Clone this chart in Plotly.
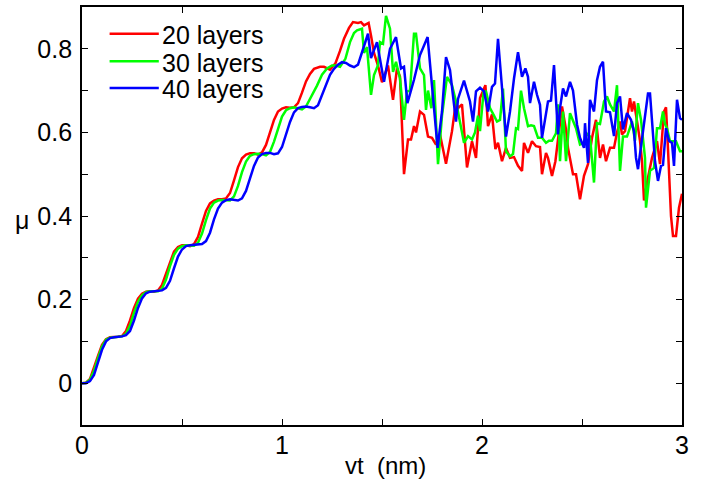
import plotly.graph_objects as go

# ---------------- data ----------------
series_names = ["20 layers", "30 layers", "40 layers"]
series_colors = ["#ff0000", "#00ff00", "#0000ff"]

pts_20 = [
    (0.00, 0.000), (0.02, 0.001), (0.04, 0.010), (0.06, 0.035), (0.08, 0.065), (0.10, 0.092),
    (0.12, 0.105), (0.14, 0.110), (0.16, 0.110), (0.18, 0.111), (0.20, 0.113), (0.22, 0.125),
    (0.24, 0.150), (0.26, 0.180), (0.28, 0.202), (0.30, 0.214), (0.32, 0.219), (0.34, 0.220),
    (0.36, 0.219), (0.38, 0.222), (0.40, 0.235), (0.42, 0.262), (0.44, 0.293), (0.46, 0.315),
    (0.48, 0.326), (0.50, 0.330), (0.52, 0.330), (0.54, 0.328), (0.56, 0.333), (0.58, 0.350),
    (0.60, 0.382), (0.62, 0.412), (0.64, 0.430), (0.66, 0.437), (0.68, 0.440), (0.70, 0.440),
    (0.72, 0.442), (0.74, 0.455), (0.76, 0.485), (0.78, 0.517), (0.80, 0.538), (0.82, 0.547),
    (0.84, 0.550), (0.86, 0.550), (0.88, 0.547), (0.90, 0.552), (0.92, 0.570), (0.94, 0.600),
    (0.96, 0.630), (0.98, 0.650), (1.00, 0.657), (1.02, 0.660), (1.04, 0.659), (1.06, 0.660),
    (1.08, 0.670), (1.10, 0.695), (1.12, 0.722), (1.14, 0.740), (1.16, 0.752), (1.19, 0.757),
    (1.21, 0.757), (1.24, 0.750), (1.267, 0.765), (1.29, 0.795), (1.31, 0.824), (1.335, 0.850),
    (1.355, 0.864), (1.38, 0.862), (1.395, 0.864), (1.41, 0.856), (1.433, 0.862), (1.445, 0.832),
    (1.46, 0.790), (1.48, 0.760), (1.50, 0.720), (1.53, 0.760), (1.555, 0.678), (1.575, 0.753),
    (1.59, 0.733), (1.61, 0.500), (1.63, 0.583), (1.645, 0.583), (1.66, 0.615), (1.67, 0.600),
    (1.69, 0.650), (1.71, 0.642), (1.73, 0.590), (1.75, 0.587), (1.77, 0.571), (1.79, 0.595),
    (1.82, 0.525), (1.85, 0.603), (1.87, 0.674), (1.88, 0.658), (1.90, 0.667), (1.925, 0.516),
    (1.95, 0.579), (1.97, 0.539), (1.99, 0.682), (2.017, 0.713), (2.03, 0.615), (2.05, 0.643),
    (2.067, 0.560), (2.08, 0.575), (2.10, 0.531), (2.12, 0.563), (2.14, 0.539), (2.16, 0.541),
    (2.18, 0.520), (2.20, 0.508), (2.21, 0.575), (2.23, 0.551), (2.25, 0.579), (2.27, 0.567),
    (2.29, 0.565), (2.30, 0.500), (2.32, 0.551), (2.33, 0.539), (2.35, 0.496), (2.367, 0.531),
    (2.38, 0.587), (2.40, 0.662), (2.42, 0.607), (2.43, 0.563), (2.455, 0.500), (2.47, 0.500),
    (2.49, 0.440), (2.51, 0.496), (2.53, 0.524), (2.55, 0.587), (2.57, 0.630), (2.59, 0.539),
    (2.605, 0.571), (2.62, 0.531), (2.64, 0.563), (2.66, 0.563), (2.675, 0.600), (2.69, 0.626),
    (2.70, 0.595), (2.715, 0.603), (2.74, 0.682), (2.75, 0.650), (2.76, 0.674), (2.775, 0.626),
    (2.79, 0.580), (2.80, 0.531), (2.81, 0.437), (2.83, 0.492), (2.85, 0.539), (2.875, 0.579),
    (2.89, 0.524), (2.91, 0.650), (2.92, 0.660), (2.93, 0.560), (2.945, 0.400), (2.955, 0.352),
    (2.97, 0.352), (2.985, 0.420), (3.00, 0.453),
]

pts_30 = [
    (0.00, 0.000), (0.02, 0.001), (0.04, 0.008), (0.06, 0.030), (0.08, 0.060), (0.10, 0.088),
    (0.12, 0.104), (0.14, 0.109), (0.16, 0.110), (0.18, 0.111), (0.20, 0.112), (0.22, 0.118),
    (0.24, 0.138), (0.26, 0.168), (0.28, 0.195), (0.30, 0.210), (0.32, 0.218), (0.34, 0.220),
    (0.36, 0.220), (0.38, 0.220), (0.40, 0.226), (0.42, 0.248), (0.44, 0.280), (0.46, 0.307),
    (0.48, 0.322), (0.50, 0.328), (0.52, 0.330), (0.54, 0.330), (0.56, 0.329), (0.58, 0.336),
    (0.60, 0.358), (0.62, 0.390), (0.64, 0.418), (0.66, 0.432), (0.68, 0.437), (0.70, 0.438),
    (0.72, 0.437), (0.74, 0.437), (0.76, 0.447), (0.78, 0.472), (0.80, 0.505), (0.82, 0.530),
    (0.84, 0.544), (0.86, 0.548), (0.88, 0.549), (0.90, 0.548), (0.92, 0.545), (0.94, 0.553),
    (0.96, 0.578), (0.98, 0.610), (1.00, 0.638), (1.02, 0.653), (1.04, 0.658), (1.06, 0.660),
    (1.08, 0.658), (1.10, 0.655), (1.12, 0.662), (1.14, 0.680), (1.16, 0.700), (1.175, 0.712),
    (1.20, 0.738), (1.225, 0.753), (1.25, 0.760), (1.27, 0.760), (1.29, 0.757), (1.317, 0.776),
    (1.34, 0.816), (1.36, 0.838), (1.375, 0.844), (1.40, 0.848), (1.41, 0.790), (1.425, 0.804),
    (1.445, 0.690), (1.46, 0.737), (1.48, 0.761), (1.49, 0.816), (1.505, 0.812), (1.52, 0.879),
    (1.54, 0.848), (1.555, 0.745), (1.57, 0.769), (1.59, 0.729), (1.61, 0.630), (1.625, 0.698),
    (1.64, 0.700), (1.66, 0.836), (1.67, 0.836), (1.69, 0.753), (1.71, 0.737), (1.72, 0.654),
    (1.73, 0.700), (1.747, 0.658), (1.76, 0.725), (1.78, 0.524), (1.79, 0.580), (1.80, 0.640),
    (1.825, 0.733), (1.85, 0.713), (1.87, 0.674), (1.89, 0.626), (1.91, 0.575), (1.93, 0.591),
    (1.95, 0.583), (1.965, 0.600), (1.98, 0.640), (1.99, 0.603), (2.008, 0.698), (2.02, 0.698),
    (2.04, 0.658), (2.06, 0.640), (2.075, 0.626), (2.09, 0.630), (2.105, 0.705), (2.12, 0.555),
    (2.14, 0.543), (2.155, 0.548), (2.17, 0.610), (2.18, 0.608), (2.195, 0.700), (2.21, 0.658),
    (2.23, 0.615), (2.245, 0.617), (2.26, 0.615), (2.28, 0.587), (2.30, 0.587), (2.32, 0.575),
    (2.335, 0.580), (2.35, 0.580), (2.37, 0.598), (2.38, 0.667), (2.39, 0.531), (2.405, 0.650),
    (2.42, 0.531), (2.44, 0.646), (2.455, 0.630), (2.47, 0.610), (2.49, 0.571), (2.51, 0.575),
    (2.525, 0.598), (2.54, 0.590), (2.56, 0.480), (2.575, 0.622), (2.59, 0.620), (2.61, 0.674),
    (2.625, 0.686), (2.64, 0.667), (2.66, 0.650), (2.675, 0.713), (2.69, 0.508), (2.705, 0.590),
    (2.725, 0.590), (2.75, 0.626), (2.765, 0.580), (2.78, 0.670), (2.795, 0.630), (2.815, 0.539),
    (2.82, 0.420), (2.84, 0.508), (2.86, 0.515), (2.875, 0.610), (2.89, 0.610), (2.905, 0.650),
    (2.915, 0.620), (2.925, 0.610), (2.94, 0.579), (2.97, 0.579), (2.99, 0.555), (3.00, 0.555),
]

pts_40 = [
    (0.00, 0.000), (0.02, 0.000), (0.04, 0.005), (0.06, 0.020), (0.08, 0.050), (0.10, 0.080),
    (0.12, 0.100), (0.14, 0.108), (0.16, 0.110), (0.18, 0.111), (0.20, 0.112), (0.22, 0.115),
    (0.24, 0.125), (0.26, 0.150), (0.28, 0.180), (0.30, 0.203), (0.32, 0.215), (0.34, 0.219),
    (0.36, 0.220), (0.38, 0.221), (0.40, 0.222), (0.42, 0.228), (0.44, 0.245), (0.46, 0.275),
    (0.48, 0.303), (0.50, 0.320), (0.52, 0.328), (0.54, 0.330), (0.56, 0.331), (0.58, 0.331),
    (0.60, 0.333), (0.62, 0.340), (0.64, 0.360), (0.66, 0.392), (0.68, 0.418), (0.70, 0.432),
    (0.72, 0.438), (0.74, 0.440), (0.76, 0.438), (0.78, 0.437), (0.80, 0.442), (0.82, 0.460),
    (0.84, 0.490), (0.86, 0.520), (0.88, 0.540), (0.90, 0.548), (0.92, 0.551), (0.94, 0.551),
    (0.96, 0.548), (0.98, 0.550), (1.00, 0.565), (1.02, 0.595), (1.04, 0.625), (1.06, 0.648),
    (1.08, 0.658), (1.10, 0.661), (1.12, 0.662), (1.14, 0.660), (1.16, 0.658), (1.18, 0.665),
    (1.20, 0.690), (1.22, 0.718), (1.24, 0.738), (1.26, 0.752), (1.28, 0.762), (1.30, 0.768),
    (1.32, 0.766), (1.34, 0.760), (1.36, 0.756), (1.38, 0.762), (1.40, 0.790), (1.43, 0.836),
    (1.445, 0.778), (1.475, 0.816), (1.51, 0.721), (1.54, 0.800), (1.57, 0.828), (1.595, 0.753),
    (1.61, 0.757), (1.627, 0.670), (1.66, 0.726), (1.69, 0.785), (1.728, 0.828), (1.778, 0.563),
    (1.80, 0.650), (1.82, 0.780), (1.84, 0.749), (1.87, 0.626), (1.88, 0.680), (1.91, 0.724),
    (1.94, 0.674), (1.955, 0.626), (1.97, 0.698), (1.99, 0.707), (2.01, 0.698), (2.03, 0.650),
    (2.05, 0.709), (2.065, 0.717), (2.08, 0.824), (2.10, 0.706), (2.12, 0.590), (2.14, 0.650),
    (2.16, 0.729), (2.18, 0.792), (2.20, 0.733), (2.217, 0.753), (2.23, 0.733), (2.24, 0.670),
    (2.26, 0.721), (2.275, 0.690), (2.29, 0.666), (2.30, 0.587), (2.317, 0.634), (2.33, 0.674),
    (2.345, 0.676), (2.36, 0.761), (2.38, 0.595), (2.39, 0.658), (2.405, 0.705), (2.42, 0.686),
    (2.44, 0.721), (2.455, 0.700), (2.475, 0.619), (2.49, 0.587), (2.51, 0.563), (2.515, 0.622),
    (2.53, 0.527), (2.54, 0.678), (2.56, 0.650), (2.575, 0.725), (2.59, 0.757), (2.605, 0.769),
    (2.62, 0.650), (2.64, 0.648), (2.66, 0.591), (2.675, 0.670), (2.69, 0.686), (2.705, 0.607),
    (2.725, 0.646), (2.745, 0.630), (2.76, 0.603), (2.77, 0.539), (2.78, 0.512), (2.80, 0.587),
    (2.815, 0.634), (2.83, 0.693), (2.84, 0.693), (2.855, 0.607), (2.865, 0.531), (2.88, 0.484),
    (2.895, 0.520), (2.905, 0.522), (2.92, 0.610), (2.935, 0.580), (2.95, 0.575), (2.96, 0.520),
    (2.975, 0.678), (2.99, 0.634), (3.00, 0.630),
]

x_ticks = [0, 1, 2, 3]
y_ticks = [0, 0.2, 0.4, 0.6, 0.8]
x_title = "vt\u00a0 (nm)"
y_title = "\u03bc"

# ---------------- figure ----------------
FONT = "Liberation Sans, Arial, sans-serif"
fig = go.Figure()
for name, color, pts in zip(series_names, series_colors, [pts_20, pts_30, pts_40]):
    xs = [p[0] for p in pts]
    ys = [p[1] for p in pts]
    fig.add_trace(go.Scatter(x=xs, y=ys, mode="lines", name=name,
                             line=dict(color=color, width=2.5), showlegend=False))

# custom legend (long line samples like the reference)
legend_rows = [0.936, 0.870, 0.806]
for name, color, yy in zip(series_names, series_colors, legend_rows):
    fig.add_shape(type="line", xref="paper", yref="paper", x0=0.046, x1=0.128, y0=yy, y1=yy,
                  line=dict(color=color, width=2.5))
    fig.add_annotation(text=name, xref="paper", yref="paper", x=0.130, y=yy - 0.003,
                       xanchor="left", yanchor="middle", showarrow=False,
                       font=dict(family=FONT, size=25, color="black"))

axis_common = dict(showline=True, linecolor="black", linewidth=1.8, mirror="ticks",
                   ticks="inside", ticklen=6, tickwidth=1.2, tickcolor="black",
                   showgrid=False, zeroline=False,
                   tickfont=dict(family=FONT, size=25, color="black"))

fig.update_xaxes(range=[0, 3], tickvals=x_ticks,
                 minor=dict(dtick=0.5, tick0=0, ticks="inside", ticklen=6, tickcolor="black", tickwidth=1.2, showgrid=False),
                 ticklabelstandoff=-3, **axis_common)
fig.update_yaxes(range=[-0.1, 0.9], tickvals=y_ticks,
                 minor=dict(dtick=0.1, tick0=0, ticks="inside", ticklen=6, tickcolor="black", tickwidth=1.2, showgrid=False),
                 ticklabelstandoff=3, **axis_common)

fig.add_annotation(text=x_title, xref="paper", yref="paper", x=0.506, y=-0.097,
                   xanchor="center", yanchor="middle", showarrow=False,
                   font=dict(family=FONT, size=24, color="black"))
fig.add_annotation(text=y_title, xref="paper", yref="paper", x=-0.1, y=0.49,
                   xanchor="center", yanchor="middle", showarrow=False,
                   font=dict(family=FONT, size=25, color="black"))

fig.update_layout(width=711, height=481, margin=dict(l=82, r=29, t=5, b=56),
                  paper_bgcolor="white", plot_bgcolor="white", showlegend=False)

fig.write_html("out.html", config={"displayModeBar": False},
               post_script="document.body.style.margin='0';document.body.style.padding='0';")
